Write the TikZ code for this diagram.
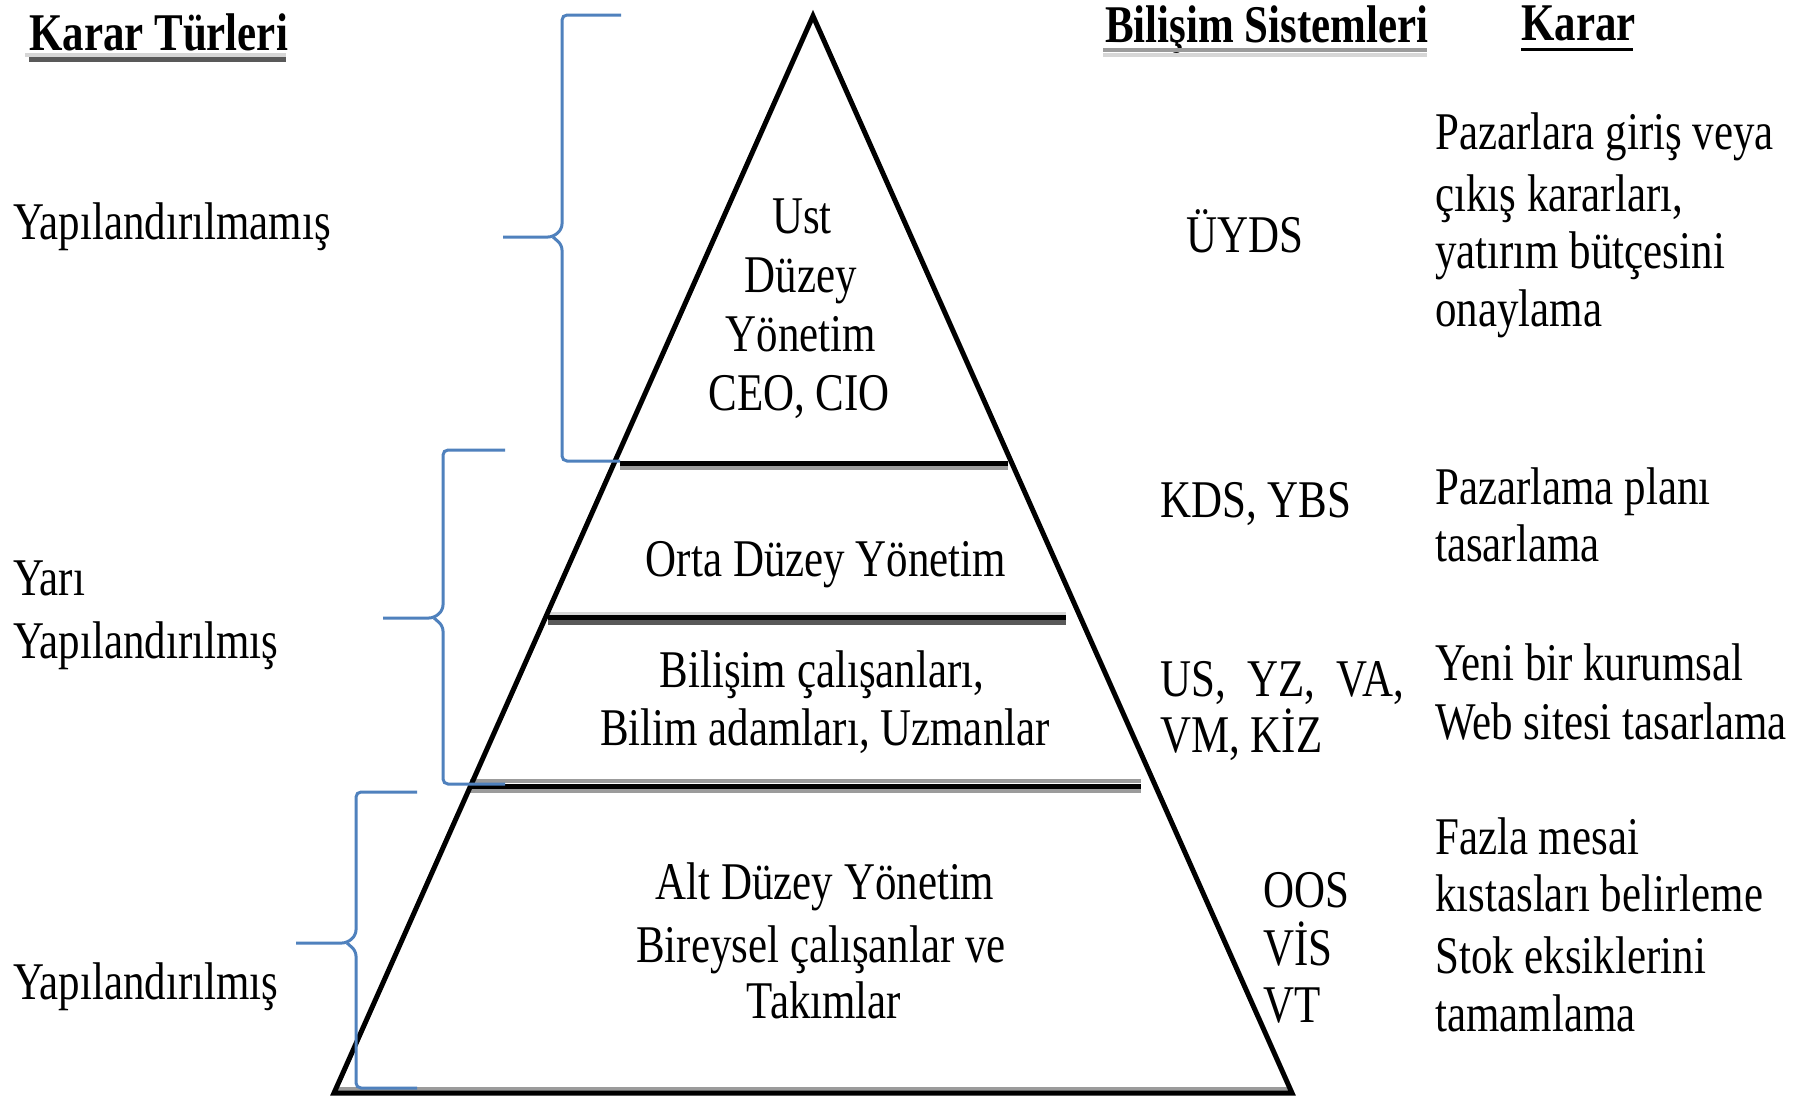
\documentclass[tikz,border=0pt]{standalone}
\usepackage{fontspec}
\setmainfont{Liberation Serif}[FakeStretch=0.81]
\definecolor{braceblue}{RGB}{79,129,189}
\definecolor{lgray}{RGB}{214,214,214}
\definecolor{mgray}{RGB}{155,155,155}
\definecolor{dgray}{RGB}{89,89,89}
\tikzset{
  txt/.style={inner sep=0pt, font=\fontsize{53}{59}\selectfont},
  hd/.style={inner sep=0pt, anchor=base west, font=\fontsize{53}{59}\selectfont\bfseries},
  lbl/.style={txt, anchor=base west},
  ctr/.style={txt, anchor=base},
  bracepath/.style={draw=braceblue, line width=3pt, rounded corners=5pt},
  tri/.style={draw=black, line width=5pt, line join=miter},
}
\begin{document}
\begin{tikzpicture}[x=1pt,y=-1pt]
\useasboundingbox[fill=white] (0,0) rectangle (1799,1095);

% pyramid corners
\coordinate (apex) at (813,16);
\coordinate (bl) at (334,1093);
\coordinate (br) at (1292,1093);

% horizontal separators
\draw[mgray, line width=4pt] (620,468) -- (1008,468);
\draw[black, line width=5pt] (620,463.5) -- (1008,463.5);

\draw[lgray, line width=3pt] (548,613.5) -- (1066,613.5);
\draw[dgray, line width=5pt] (548,622.5) -- (1066,622.5);
\draw[black, line width=5pt] (548,617.5) -- (1066,617.5);

\draw[mgray, line width=4pt] (470,781) -- (1141,781);
\draw[mgray, line width=4pt] (470,791) -- (1141,791);
\draw[black, line width=5pt] (470,786.5) -- (1141,786.5);

\draw[mgray, line width=5pt] (336,1089) -- (1290,1089);

\draw[tri] (apex) -- (br) -- (bl) -- cycle;

% braces
\draw[bracepath] (621,15) -- (562,15) -- (562,229) -- (553,237) -- (503,237);
\draw[bracepath] (553,237) -- (562,245) -- (562,461) -- (620,461);
\draw[bracepath] (505,450) -- (443,450) -- (443,610) -- (434,618) -- (383,618);
\draw[bracepath] (434,618) -- (443,626) -- (443,784) -- (505,784);
\draw[bracepath] (417,792) -- (356,792) -- (356,935) -- (347,943) -- (296,943);
\draw[bracepath] (347,943) -- (356,951) -- (356,1088) -- (417,1088);

% headers
\node[hd] (kt) at (29,50) {Karar Türleri};
\draw[lgray, line width=4pt] (25,55) -- (286,55);
\draw[dgray, line width=5pt] (29,59.5) -- (286,59.5);
\node[hd] (bs) at (1105,42) {Bilişim Sistemleri};
\draw[mgray, line width=4pt] (1103,50) -- (1427,50);
\draw[lgray, line width=4pt] (1103,54.5) -- (1427,54.5);
\node[hd] (kr) at (1521,40) {Karar};
\draw[black, line width=3.5pt] (1521,49.5) -- (1633,49.5);

% left labels
\node[lbl] (l1) at (13,239) {Yapılandırılmamış};
\node[lbl] (l2a) at (13,595) {Yarı};
\node[lbl] (l2b) at (13,658) {Yapılandırılmış};
\node[lbl] (l3) at (13,999) {Yapılandırılmış};

% pyramid texts
\node[ctr] (u1) at (802,233) {Ust};
\node[ctr] (u2) at (801,292) {Düzey};
\node[ctr] (u3) at (801,351) {Yönetim};
\node[ctr] (u4) at (799,410) {CEO, CIO};
\node[ctr] (o1) at (826,576) {Orta Düzey Yönetim};
\node[ctr] (b1) at (822,687) {Bilişim çalışanları,};
\node[ctr] (b2) at (825,745) {Bilim adamları, Uzmanlar};
\node[ctr] (a1) at (825,899) {Alt Düzey Yönetim};
\node[ctr] (a2) at (821,962) {Bireysel çalışanlar ve};
\node[ctr] (a3) at (824,1018) {Takımlar};

% information systems
\node[lbl] (s1) at (1186,252) {ÜYDS};
\node[lbl] (s2) at (1160,517) {KDS, YBS};
\node[lbl] (s3a) at (1160,696) {US,\ \ YZ,\ \ VA,};
\node[lbl] (s3b) at (1160,752) {VM, KİZ};
\node[lbl] (s4a) at (1263,907) {OOS};
\node[lbl] (s4b) at (1263,965) {VİS};
\node[lbl] (s4c) at (1263,1022) {VT};

% decisions
\node[lbl] (d1a) at (1435,149) {Pazarlara giriş veya};
\node[lbl] (d1b) at (1435,211) {çıkış kararları,};
\node[lbl] (d1c) at (1435,268) {yatırım bütçesini};
\node[lbl] (d1d) at (1435,326) {onaylama};
\node[lbl] (d2a) at (1435,504) {Pazarlama planı};
\node[lbl] (d2b) at (1435,561) {tasarlama};
\node[lbl] (d3a) at (1435,680) {Yeni bir kurumsal};
\node[lbl] (d3b) at (1435,739) {Web sitesi tasarlama};
\node[lbl] (d4a) at (1435,854) {Fazla mesai};
\node[lbl] (d4b) at (1435,911) {kıstasları belirleme};
\node[lbl] (d4c) at (1435,973) {Stok eksiklerini};
\node[lbl] (d4d) at (1435,1031) {tamamlama};
\end{tikzpicture}
\end{document}
